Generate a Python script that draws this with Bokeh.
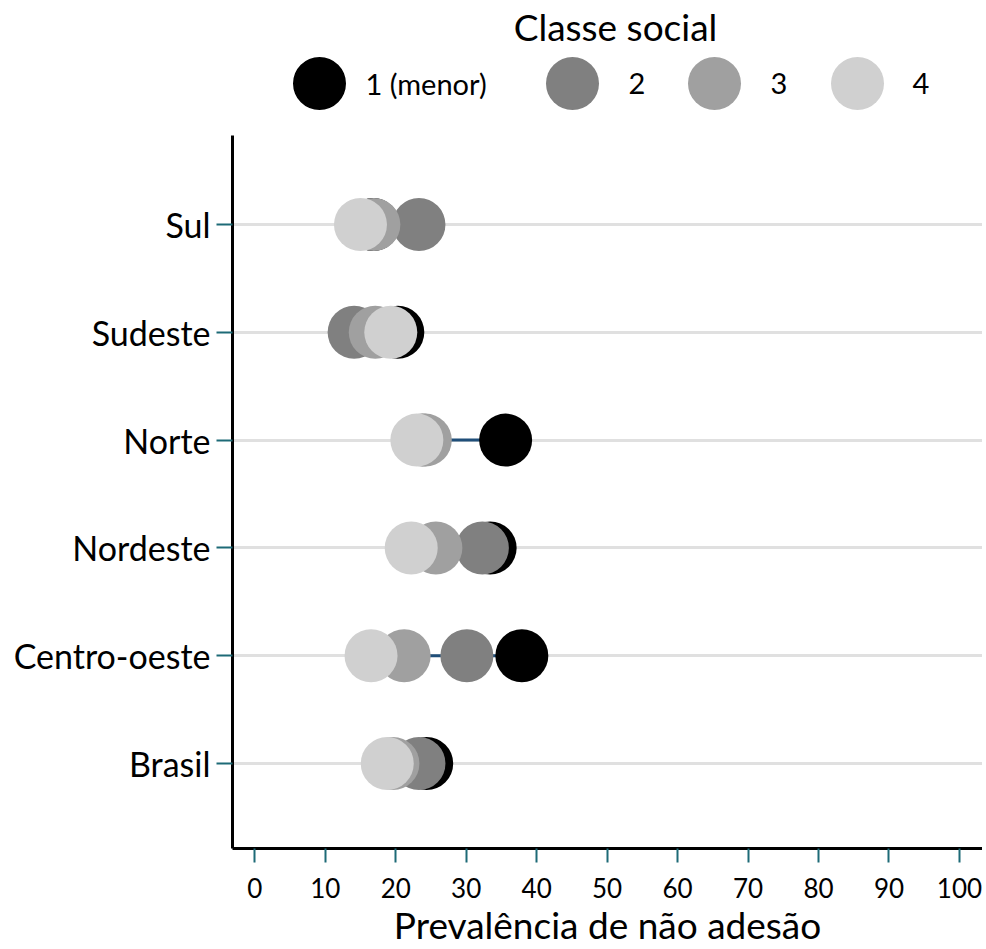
from bokeh.plotting import figure
from bokeh.layouts import column
from bokeh.models import ColumnDataSource, Range1d, FixedTicker
from bokeh.core.properties import value
from bokeh.embed import file_html
from bokeh.resources import INLINE

# ---------------- data ----------------
regions = ["Sul", "Sudeste", "Norte", "Nordeste", "Centro-oeste", "Brasil"]
classe1 = [16.8, 20.3, 35.6, 33.4, 37.9, 24.4]
classe2 = [23.3, 14.1, 23.8, 32.3, 30.1, 23.3]
classe3 = [16.9, 17.1, 24.2, 25.7, 21.2, 19.6]
classe4 = [15.0, 19.3, 23.0, 22.2, 16.5, 18.8]
class_labels = ["1 (menor)", "2", "3", "4"]
class_colors = ["#000000", "#808080", "#a0a0a0", "#d0d0d0"]
x_ticks = [0, 10, 20, 30, 40, 50, 60, 70, 80, 90, 100]
legend_title = "Classe social"
x_title = "Prevalência de não adesão"

FONT = "Lato"
W = 982
LEFT = 232
n = len(regions)
ypos = [n - i for i in range(n)]  # Sul at top

# ---------------- legend figure (page-pixel coordinates) ----------------
leg = figure(width=W, height=128, x_range=Range1d(LEFT, W), y_range=Range1d(128, 0),
             x_axis_location=None, y_axis_location=None, toolbar_location=None,
             output_backend="svg", min_border_left=LEFT, min_border_right=0,
             min_border_top=0, min_border_bottom=0, outline_line_color=None)
leg.grid.visible = False
leg_cx = [319, 572, 714, 857]
leg_tx = [365, 628, 770, 912]
leg.scatter(x=leg_cx, y=[83] * 4, size=53, fill_color=class_colors, line_color=None)
leg.text(x=leg_tx, y=[83] * 4, text=class_labels, text_font=value(FONT),
         text_font_size="29px", text_baseline="middle", text_align="left", text_color="#000000")
leg.text(x=[615], y=[26], text=[legend_title], text_font=value(FONT),
         text_font_size="37px", text_baseline="middle", text_align="center", text_color="#000000")

# ---------------- main figure ----------------
p = figure(width=W, height=821, x_range=Range1d(-3.16, 103.27), y_range=Range1d(0.2115, 6.826),
           toolbar_location=None, output_backend="svg",
           min_border_left=LEFT, min_border_right=0, min_border_top=7, min_border_bottom=101,
           outline_line_color=None)

# dumbbell lines (min to max)
lo = [min(a, b, c, d) for a, b, c, d in zip(classe1, classe2, classe3, classe4)]
hi = [max(a, b, c, d) for a, b, c, d in zip(classe1, classe2, classe3, classe4)]
p.segment(x0=lo, x1=hi, y0=ypos, y1=ypos, line_color="#1f4e79", line_width=3)

for vals, col in zip([classe1, classe2, classe3, classe4], class_colors):
    src = ColumnDataSource(dict(x=vals, y=ypos))
    p.scatter("x", "y", source=src, size=53, fill_color=col, line_color=None)

# axes
p.xaxis.ticker = FixedTicker(ticks=x_ticks)
p.xaxis.axis_label = x_title
p.xaxis.axis_label_text_font = FONT
p.xaxis.axis_label_text_font_size = "37px"
p.xaxis.axis_label_text_font_style = "normal"
p.xaxis.axis_label_text_color = "#000000"
p.xaxis.axis_label_standoff = 1
p.xaxis.major_label_text_font = FONT
p.xaxis.major_label_text_font_size = "26px"
p.xaxis.major_label_text_color = "#000000"
p.xaxis.major_label_standoff = 15

p.yaxis.ticker = FixedTicker(ticks=ypos)
p.yaxis.major_label_overrides = {y: r for y, r in zip(ypos, regions)}
p.yaxis.major_label_text_font = FONT
p.yaxis.major_label_text_font_size = "34px"
p.yaxis.major_label_text_color = "#000000"
p.yaxis.major_label_standoff = 6

for ax in (p.xaxis, p.yaxis):
    ax.axis_line_color = "#000000"
    ax.axis_line_width = 3
    ax.major_tick_line_color = "#1d6a77"
    ax.major_tick_line_width = 2
    ax.major_tick_in = 0
    ax.minor_tick_line_color = None
p.xaxis.major_tick_out = 14
p.yaxis.major_tick_out = 16

p.xgrid.visible = False
p.ygrid.ticker = FixedTicker(ticks=ypos)
p.ygrid.grid_line_color = "#e0e0e0"
p.ygrid.grid_line_width = 3

layout = column(leg, p, spacing=0)
open("out.html", "w").write(file_html(layout, INLINE))
